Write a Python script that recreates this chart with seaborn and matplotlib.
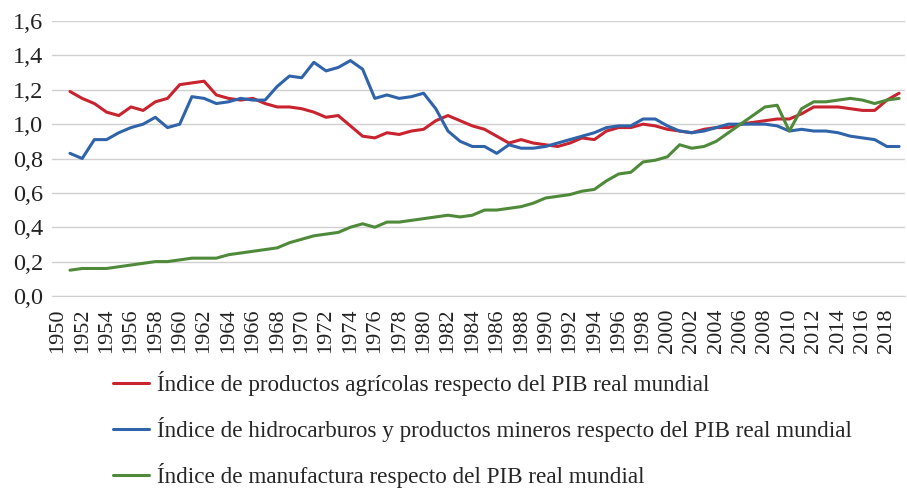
import numpy as np
import pandas as pd
import matplotlib
matplotlib.use('Agg')
import matplotlib.pyplot as plt
import seaborn as sns

# Años (datos desde 1951; el eje empieza en 1950)
years = list(range(1951, 2020))

agricolas = [1.19, 1.15, 1.12, 1.07, 1.05, 1.10, 1.08, 1.13, 1.15, 1.23,
             1.24, 1.25, 1.17, 1.15, 1.14, 1.15, 1.12, 1.10, 1.10, 1.09,
             1.07, 1.04, 1.05, 0.99, 0.93, 0.92, 0.95, 0.94, 0.96, 0.97,
             1.02, 1.05, 1.02, 0.99, 0.97, 0.93, 0.89, 0.91, 0.89, 0.88,
             0.87, 0.89, 0.92, 0.91, 0.96, 0.98, 0.98, 1.00, 0.99, 0.97,
             0.96, 0.95, 0.97, 0.98, 0.98, 1.00, 1.01, 1.02, 1.03, 1.03,
             1.06, 1.10, 1.10, 1.10, 1.09, 1.08, 1.08, 1.14, 1.18]

hidrocarburos = [0.83, 0.80, 0.91, 0.91, 0.95, 0.98, 1.00, 1.04, 0.98, 1.00,
                 1.16, 1.15, 1.12, 1.13, 1.15, 1.14, 1.14, 1.22, 1.28, 1.27,
                 1.36, 1.31, 1.33, 1.37, 1.32, 1.15, 1.17, 1.15, 1.16, 1.18,
                 1.09, 0.96, 0.90, 0.87, 0.87, 0.83, 0.88, 0.86, 0.86, 0.87,
                 0.89, 0.91, 0.93, 0.95, 0.98, 0.99, 0.99, 1.03, 1.03, 0.99,
                 0.96, 0.95, 0.96, 0.98, 1.00, 1.00, 1.00, 1.00, 0.99, 0.96,
                 0.97, 0.96, 0.96, 0.95, 0.93, 0.92, 0.91, 0.87, 0.87]

manufactura = [0.15, 0.16, 0.16, 0.16, 0.17, 0.18, 0.19, 0.20, 0.20, 0.21,
               0.22, 0.22, 0.22, 0.24, 0.25, 0.26, 0.27, 0.28, 0.31, 0.33,
               0.35, 0.36, 0.37, 0.40, 0.42, 0.40, 0.43, 0.43, 0.44, 0.45,
               0.46, 0.47, 0.46, 0.47, 0.50, 0.50, 0.51, 0.52, 0.54, 0.57,
               0.58, 0.59, 0.61, 0.62, 0.67, 0.71, 0.72, 0.78, 0.79, 0.81,
               0.88, 0.86, 0.87, 0.90, 0.95, 1.00, 1.05, 1.10, 1.11, 0.96,
               1.09, 1.13, 1.13, 1.14, 1.15, 1.14, 1.12, 1.14, 1.15]

nombres = ['Índice de productos agrícolas respecto del PIB real mundial',
           'Índice de hidrocarburos y productos mineros respecto del PIB real mundial',
           'Índice de manufactura respecto del PIB real mundial']
colores = ['#C8232E', '#2F63AA', '#4F8A3B']

df = pd.DataFrame({'year': years, nombres[0]: agricolas,
                   nombres[1]: hidrocarburos, nombres[2]: manufactura})
df_long = df.melt(id_vars='year', var_name='serie', value_name='valor')

sns.set_style('white')
plt.rcParams['font.family'] = ['Liberation Serif', 'DejaVu Serif']

fig = plt.figure(figsize=(9.07, 4.90), dpi=100)
ax = fig.add_axes([0.057, 0.396, 0.941, 0.561])

sns.lineplot(data=df_long, x='year', y='valor', hue='serie',
             palette=colores, hue_order=nombres, linewidth=2.2, ax=ax)

ax.set_xlim(1949.5, 2019.5)
ax.set_ylim(0, 1.6)
ax.set_xticks(range(1950, 2020, 2))
ax.set_xticklabels([str(a) for a in range(1950, 2020, 2)], rotation=90,
                   fontsize=16, color='#222222')
yt = np.arange(0, 1.61, 0.2)
ax.set_yticks(yt)
ax.set_yticklabels([f'{v:.1f}'.replace('.', ',') for v in yt],
                   fontsize=17.5, color='#222222')
ax.tick_params(axis='y', length=0, pad=6)
ax.tick_params(axis='x', length=0, pad=9)
ax.grid(axis='y', color='#d0d0d0', linewidth=1.0)
ax.set_axisbelow(True)
for s in ['top', 'right', 'left']:
    ax.spines[s].set_visible(False)
ax.spines['bottom'].set_color('#d0d0d0')
ax.set_xlabel('')
ax.set_ylabel('')

handles, labels = ax.get_legend_handles_labels()
ax.get_legend().remove()
fig.legend(handles, labels, loc='upper left', bbox_to_anchor=(0.125, 0.242),
           frameon=False, fontsize=16.7, handlelength=1.55, handletextpad=0.35,
           labelspacing=0.9, borderaxespad=0, borderpad=0)

fig.savefig('out.png', dpi=100)
